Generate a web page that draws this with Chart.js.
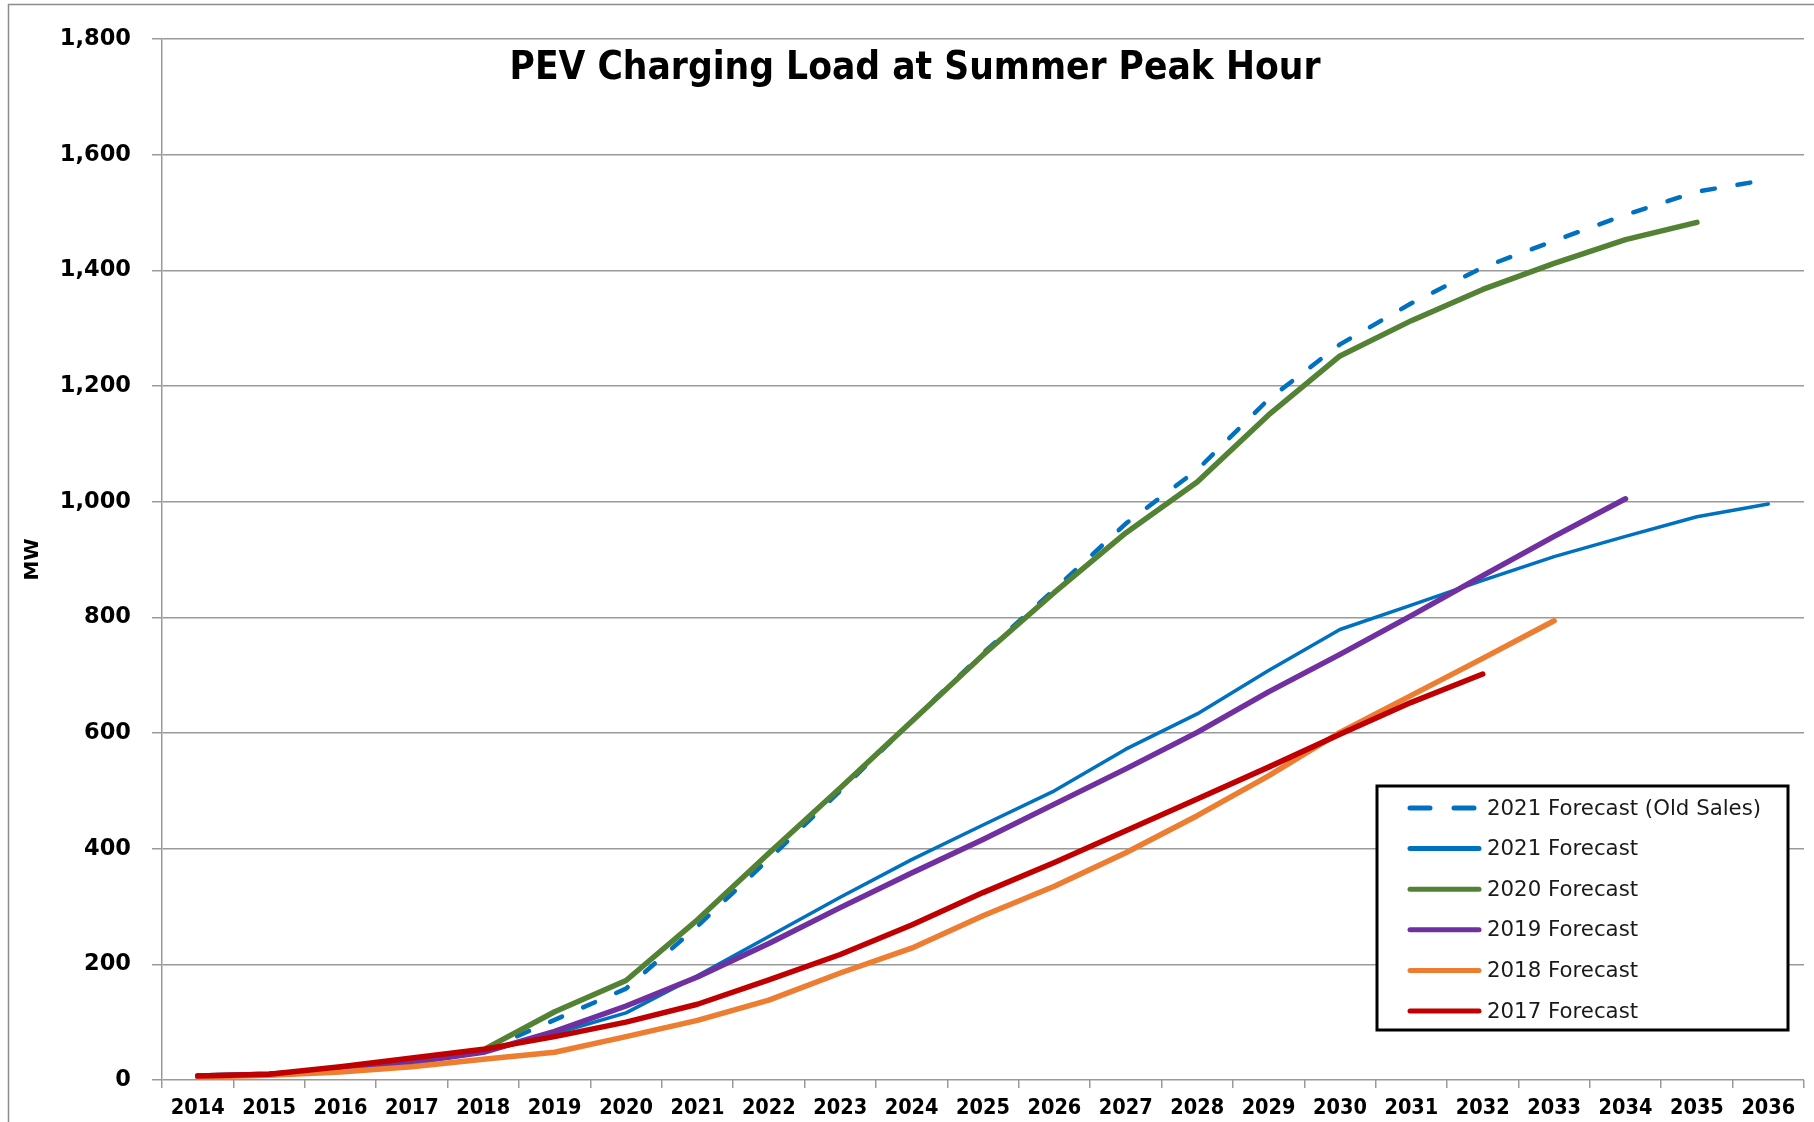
<!DOCTYPE html>
<html><head><meta charset="utf-8">
<script src="https://cdn.jsdelivr.net/npm/chart.js@4.4.1/dist/chart.umd.min.js"></script>
<style>
html,body{margin:0;padding:0;background:#fff;overflow:hidden}
#wrap{position:relative;width:1814px;height:1122px}
canvas{display:block}
</style></head><body>
<div id="wrap"><canvas id="c" width="1814" height="1122"></canvas></div>
<script>
const chartTitle = "PEV Charging Load at Summer Peak Hour";
const yAxisTitle = "MW";
const years = ["2014","2015","2016","2017","2018","2019","2020","2021","2022","2023","2024","2025","2026","2027","2028","2029","2030","2031","2032","2033","2034","2035","2036"];
const yTicks = [0,200,400,600,800,1000,1200,1400,1600,1800];

const seriesLabels = ["2021 Forecast (Old Sales)","2021 Forecast","2020 Forecast","2019 Forecast","2018 Forecast","2017 Forecast"];
const f2021Old = [7,10,18,30,50,104,158,266,382,500,620,738,848,962,1055,1177,1272,1343,1405,1451,1496,1536,1557];
const f2021    = [7,10,18,30,48,80,116,180,248,316,381,441,500,572,633,708,779,821,864,905,940,974,996];
const f2020    = [7,10,18,30,52,118,172,277,392,505,620,735,843,946,1034,1150,1252,1313,1367,1412,1453,1483];
const f2019    = [7,10,18,30,48,84,128,178,236,298,358,416,477,538,601,671,736,803,872,940,1005];
const f2018    = [5,8,14,23,36,48,75,103,138,185,228,284,335,393,457,526,601,665,729,794];
const f2017    = [7,10,23,38,53,75,100,131,173,217,268,324,376,431,486,541,598,653,702];

const colors = ["#0070C0","#0070C0","#548235","#7030A0","#ED7D31","#C00000"];

const framePlugin = {
  id:'frame',
  beforeDraw(chart){
    const ctx = chart.ctx;
    ctx.save();
    ctx.fillStyle = '#fff';
    ctx.fillRect(0,0,chart.width,chart.height);
    ctx.strokeStyle = '#8c8c8c';
    ctx.lineWidth = 1.5;
    ctx.beginPath();
    ctx.moveTo(8.5, chart.height);
    ctx.lineTo(8.5, 4.5);
    ctx.lineTo(chart.width, 4.5);
    ctx.stroke();
    ctx.restore();
  }
};

const titlePlugin = {
  id:'innerTitle',
  afterDraw(chart){
    const ctx = chart.ctx;
    ctx.save();
    ctx.font = 'bold 38.5px "DejaVu Sans Condensed", "DejaVu Sans", sans-serif';
    ctx.fillStyle = '#000';
    ctx.textAlign = 'center';
    ctx.textBaseline = 'middle';
    ctx.fillText(chartTitle, 915, 69);
    ctx.restore();
  }
};

const legendPlugin = {
  id:'boxLegend',
  afterDraw(chart){
    const ctx = chart.ctx;
    const x0 = 1377, y0 = 786, w = 411, h = 244;
    ctx.save();
    ctx.fillStyle = '#fff';
    ctx.fillRect(x0,y0,w,h);
    ctx.strokeStyle = '#000';
    ctx.lineWidth = 3;
    ctx.strokeRect(x0,y0,w,h);
    ctx.font = '21.3px "DejaVu Sans", sans-serif';
    ctx.textBaseline = 'middle';
    ctx.textAlign = 'left';
    chart.data.datasets.forEach((ds,i)=>{
      const cy = 808 + i*40.6;
      ctx.strokeStyle = ds.borderColor;
      ctx.lineWidth = 5;
      ctx.lineCap = 'round';
      ctx.setLineDash(ds.borderDash && ds.borderDash.length ? [20,24] : []);
      ctx.beginPath();
      ctx.moveTo(1410, cy);
      ctx.lineTo(1479, cy);
      ctx.stroke();
      ctx.setLineDash([]);
      ctx.fillStyle = '#1a1a1a';
      ctx.fillText(ds.label, 1487, cy+1);
    });
    ctx.restore();
  }
};

function mk(label, data, color, width, dash, order){
  return {label, data, borderColor:color, backgroundColor:color, borderWidth:width,
    borderDash:dash, borderCapStyle:'round', borderJoinStyle:'round',
    pointRadius:0, pointHoverRadius:0, tension:0, fill:false, order};
}

new Chart(document.getElementById('c'), {
  type:'line',
  data:{
    labels:years,
    datasets:[
      mk(seriesLabels[0], f2021Old, colors[0], 4.5, [13,23], 6),
      mk(seriesLabels[1], f2021, colors[1], 3.5, [], 5),
      mk(seriesLabels[2], f2020, colors[2], 5.5, [], 4),
      mk(seriesLabels[3], f2019, colors[3], 5.5, [], 3),
      mk(seriesLabels[4], f2018, colors[4], 5.5, [], 2),
      mk(seriesLabels[5], f2017, colors[5], 5.5, [], 1)
    ]
  },
  options:{
    responsive:false,
    animation:false,
    devicePixelRatio:1,
    layout:{padding:{top:39, right:10, bottom:0, left:0}},
    plugins:{legend:{display:false}, title:{display:false}, tooltip:{enabled:false}},
    scales:{
      x:{
        offset:true,
        grid:{display:true, offset:true, drawOnChartArea:false, drawTicks:true, tickLength:8, color:'#9a9a9a', lineWidth:1.5},
        border:{display:false},
        ticks:{color:'#000', font:{family:'"DejaVu Sans Condensed", "DejaVu Sans", sans-serif', weight:'bold', size:21.5}, padding:8, maxRotation:0, autoSkip:false},
        afterFit(scale){ scale.height = 42; }
      },
      y:{
        min:0, max:1800,
        afterBuildTicks(scale){ scale.ticks = yTicks.map(v=>({value:v})); },
        grid:{color:'#9a9a9a', lineWidth:1.5, tickLength:10, drawTicks:true},
        border:{display:true, color:'#9a9a9a', width:1.5},
        ticks:{color:'#000', font:{family:'"DejaVu Sans", sans-serif', weight:'bold', size:22.5}, padding:21,
          callback:(v)=>Number(v).toLocaleString('en-US')},
        title:{display:true, text:yAxisTitle, color:'#000', font:{family:'"DejaVu Sans", sans-serif', weight:'bold', size:20}, padding:{top:21,bottom:0}},
        afterFit(scale){ scale.width = 162; }
      }
    }
  },
  plugins:[framePlugin, titlePlugin, legendPlugin]
});
</script>
</body></html>
